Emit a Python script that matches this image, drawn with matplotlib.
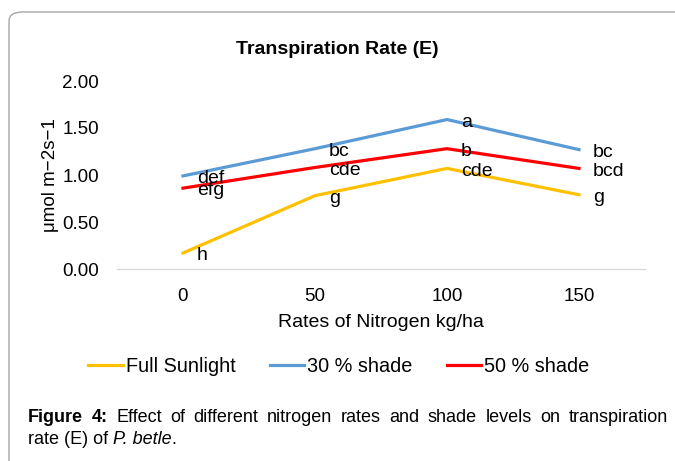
import numpy as np
import matplotlib
matplotlib.use('Agg')
import matplotlib.pyplot as plt
from matplotlib.patches import FancyBboxPatch

plt.rcParams['font.family'] = ['Liberation Sans', 'DejaVu Sans']

rates = ['0', '50', '100', '150']
full_sun = [0.17, 0.78, 1.07, 0.79]
shade30 = [0.99, 1.28, 1.59, 1.27]
shade50 = [0.86, 1.08, 1.28, 1.07]
lab_full = ['h', 'g', 'cde', 'g']
lab_30 = ['def', 'bc', 'a', 'bc']
lab_50 = ['efg', 'cde', 'b', 'bcd']

fig = plt.figure(figsize=(6.75, 4.61), dpi=100)

# rounded chart frame (runs off the right and bottom edges)
frame = FancyBboxPatch((9 / 675, -0.1), 1.2, 1 - 12 / 461 + 0.1,
                       boxstyle='round,pad=0,rounding_size=0.02',
                       transform=fig.transFigure, fc='white', ec='#a6a6a6',
                       lw=1, zorder=-10)
fig.patches.append(frame)

ax = fig.add_axes([117 / 675, 1 - 269 / 461, 528 / 675, 188 / 461])
ax.set_facecolor('none')
x = np.arange(len(rates))

ax.plot(x, full_sun, color='#FFC000', lw=2.3, label='Full Sunlight')
ax.plot(x, shade30, color='#5B9BD5', lw=2.3, label='30 % shade')
ax.plot(x, shade50, color='#FF0000', lw=2.3, label='50 % shade')

for vals, labs in [(full_sun, lab_full), (shade30, lab_30), (shade50, lab_50)]:
    for xi, v, t in zip(x, vals, labs):
        ax.annotate(t, (xi, v), xytext=(10, -2), textcoords='offset points',
                    ha='left', va='center', fontsize=14)

ax.set_xlim(-0.5, 3.5)
ax.set_ylim(0, 2.0)
ax.set_yticks([0, 0.5, 1.0, 1.5, 2.0])
ax.set_yticklabels(['0.00', '0.50', '1.00', '1.50', '2.00'])
ax.set_xticks(x)
ax.set_xticklabels(rates)
ax.tick_params(length=0, labelsize=13.5)
ax.tick_params(axis='y', pad=13)
ax.tick_params(axis='x', pad=14)
for s in ['top', 'right', 'left']:
    ax.spines[s].set_visible(False)
ax.spines['bottom'].set_color('#d9d9d9')
ax.spines['bottom'].set_linewidth(1)

ax.set_xlabel('Rates of Nitrogen kg/ha', fontsize=14, labelpad=6)
ax.set_ylabel('\u03bcmol m\u22122s\u22121', fontsize=13.5)
ax.yaxis.set_label_coords(-0.11, 0.5)

fig.text(337 / 675, 1 - 49 / 461, 'Transpiration Rate (E)', ha='center', va='center',
         fontsize=14, fontweight='bold')

fig.legend(loc='center', bbox_to_anchor=(339 / 675, 1 - 366 / 461), ncol=3,
           frameon=False, fontsize=14.3, handlelength=1.75, handletextpad=0.15,
           columnspacing=1.7)

# justified caption, placed word by word
renderer = fig.canvas.get_renderer()
left, right = 28, 668
line1 = [('Figure', 'bold'), ('4:', 'bold'), ('Effect', 'normal'), ('of', 'normal'),
         ('different', 'normal'), ('nitrogen', 'normal'), ('rates', 'normal'),
         ('and', 'normal'), ('shade', 'normal'), ('levels', 'normal'), ('on', 'normal'),
         ('transpiration', 'normal')]
texts = [fig.text(0, 1 - 417 / 461, w, ha='left', va='center', fontsize=13, fontweight=wt)
         for w, wt in line1]
widths = [t.get_window_extent(renderer).width for t in texts]
gap = (right - left - sum(widths)) / (len(texts) - 1)
pos = left
for t, wd in zip(texts, widths):
    t.set_x(pos / 675)
    pos += wd + gap

line2 = [('rate (E) of ', 'normal'), ('P. betle', 'italic'), ('.', 'normal')]
pos = left
for w, st in line2:
    t = fig.text(pos / 675, 1 - 439 / 461, w, ha='left', va='center', fontsize=13,
                 fontstyle=st)
    pos += t.get_window_extent(renderer).width

fig.savefig('out.png', dpi=100)
